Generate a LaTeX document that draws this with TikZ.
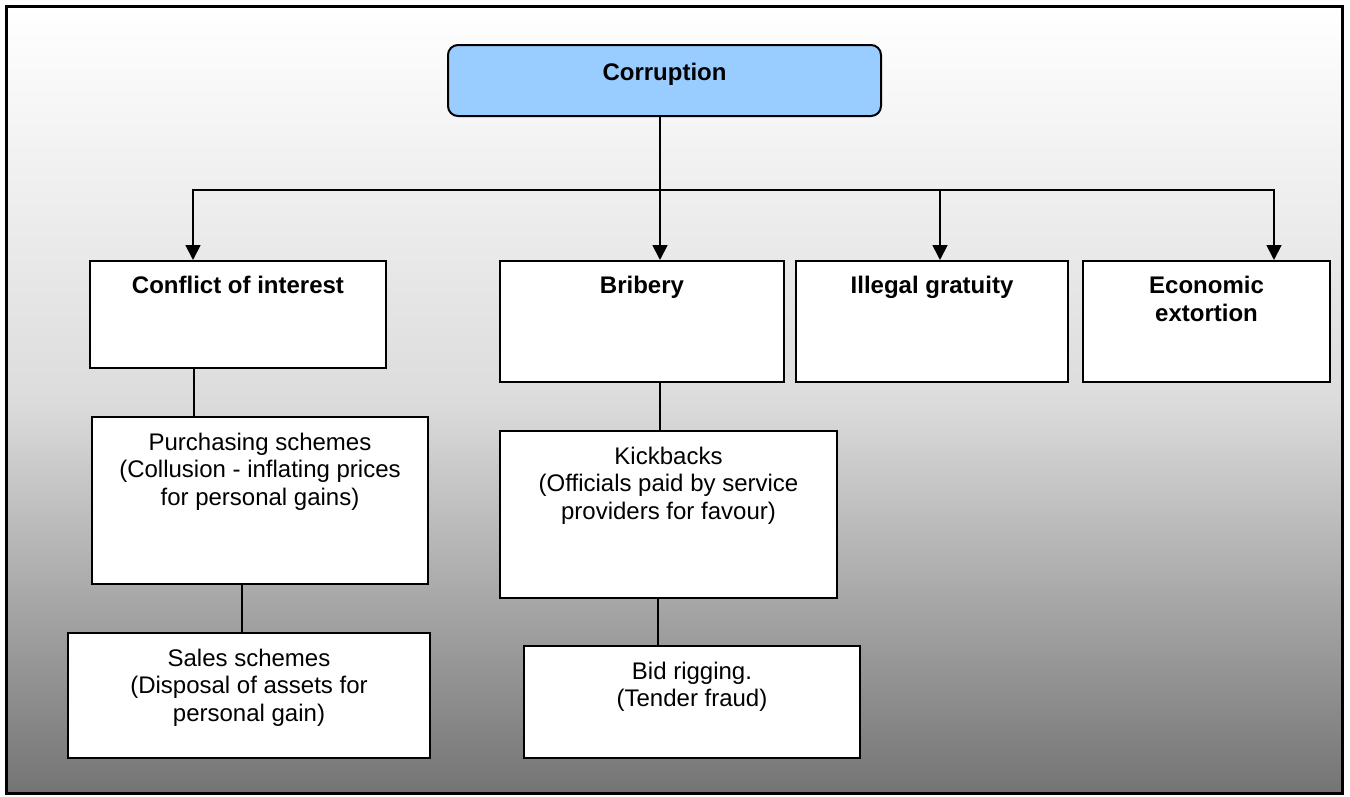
\documentclass[tikz,border=0pt]{standalone}
\usepackage{fontspec}
\setmainfont{Liberation Sans}
\usetikzlibrary{arrows.meta,positioning}

\definecolor{rootblue}{HTML}{99CCFF}
\definecolor{bgmid}{HTML}{DCDCDC}
\definecolor{bgbottom}{HTML}{747474}

\tikzset{
  box/.style={draw=black, line width=2pt, fill=white, rectangle, inner sep=0pt},
  rootbox/.style={box, fill=rootblue, rounded corners=10pt},
  ttl/.style={font=\bfseries\fontsize{24}{27.6}\selectfont, align=center, anchor=north, inner sep=0pt},
  txt/.style={font=\fontsize{24}{27.6}\selectfont, align=center, anchor=north, inner sep=0pt},
  conn/.style={draw=black, line width=1.8pt},
  arr/.style={conn, -{Triangle[width=15pt,length=15pt]}},
}

\begin{document}
\begin{tikzpicture}[x=1pt, y=-1pt]
  \useasboundingbox (0,0) rectangle (1350,796);

  % shaded panel with its frame
  \shade[top color=white, bottom color=bgbottom, middle color=bgmid]
    (6.5,6.5) rectangle (1342.5,793);
  \draw[line width=3pt] (6.5,6.5) rectangle (1342.5,793);

  % boxes (centre, size)
  \node[rootbox, minimum width=433pt, minimum height=71pt] (corr) at (664.5,80.5) {};
  \node[box, minimum width=296pt, minimum height=107pt] (coi) at (238,314.5) {};
  \node[box, minimum width=284pt, minimum height=121pt] (bri) at (642,321.5) {};
  \node[box, minimum width=272pt, minimum height=121pt] (ill) at (932,321.5) {};
  \node[box, minimum width=247pt, minimum height=121pt] (eco) at (1206.5,321.5) {};
  \node[box, minimum width=336pt, minimum height=167pt] (pur) at (260,500.5) {};
  \node[box, minimum width=337pt, minimum height=167pt] (kic) at (668.5,514.5) {};
  \node[box, minimum width=362pt, minimum height=125pt] (sal) at (249,695.5) {};
  \node[box, minimum width=336pt, minimum height=112pt] (bid) at (692,702) {};

  % box texts
  \node[ttl] (corrT) at ([yshift=-19.4pt]corr.north) {Corruption};
  \node[ttl] (coiT) at ([yshift=-16.4pt]coi.north) {Conflict of interest};
  \node[ttl] (briT) at ([yshift=-16.4pt]bri.north) {Bribery};
  \node[ttl] (illT) at ([yshift=-16.4pt]ill.north) {Illegal gratuity};
  \node[ttl] (ecoT) at ([yshift=-16.4pt]eco.north) {Economic\\extortion};
  \node[txt] (purT) at ([yshift=-16.4pt]pur.north) {Purchasing schemes\\(Collusion - inflating prices\\for personal gains)};
  \node[txt] (kicT) at ([yshift=-16.4pt]kic.north) {Kickbacks\\(Officials paid by service\\providers for favour)};
  \node[txt] (salT) at ([yshift=-16.4pt]sal.north) {Sales schemes\\(Disposal of assets for\\personal gain)};
  \node[txt] (bidT) at ([yshift=-16.4pt]bid.north) {Bid rigging.\\(Tender fraud)};

  % branching bus under the root
  \coordinate (jC) at (660,190);
  \coordinate (busL) at (193,190);
  \coordinate (jI) at (940,190);
  \coordinate (busR) at (1274,190);

  \draw[conn] ([xshift=-4.5pt]corr.south) -- (jC);
  \draw[arr] (jC) -- (busL) -- (busL |- coi.north);
  \draw[arr] (jC) -- (busR) -- (busR |- eco.north);
  \draw[arr] (jC) -- (jC |- bri.north);
  \draw[arr] (jI) -- (jI |- ill.north);

  % plain links down each column
  \draw[conn] ([xshift=-44pt]coi.south) -- ([xshift=-44pt]coi.south |- pur.north);
  \draw[conn] ([xshift=-18pt]pur.south) -- ([xshift=-18pt]pur.south |- sal.north);
  \draw[conn] ([xshift=18pt]bri.south) -- ([xshift=18pt]bri.south |- kic.north);
  \draw[conn] ([xshift=-10.5pt]kic.south) -- ([xshift=-10.5pt]kic.south |- bid.north);
\end{tikzpicture}
\end{document}
